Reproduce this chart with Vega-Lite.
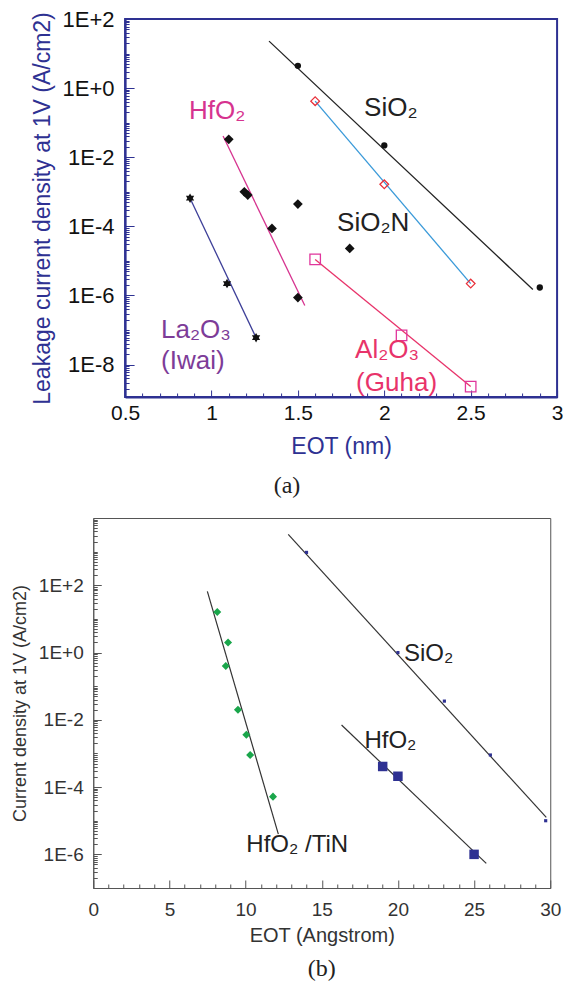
{
  "$schema": "https://vega.github.io/schema/vega-lite/v6.json",
  "background": "white",
  "padding": {"left": 10, "top": 7, "right": 0, "bottom": 0},
  "spacing": 9,
  "center": true,
  "bounds": "full",
  "config": {
    "font": "Liberation Sans",
    "axis": {"labelFont": "Liberation Sans", "titleFont": "Liberation Sans", "titleFontWeight": "normal", "grid": false, "labelOverlap": false, "labelFlush": false},
    "text": {"font": "Liberation Sans"}
  },
  "datasets": {
    "topLines": [
      {"series": "SiO2", "eot": 1.333, "j": 22.9},
      {"series": "SiO2", "eot": 2.86, "j": 1.48e-6},
      {"series": "SiO2N", "eot": 1.6, "j": 0.42},
      {"series": "SiO2N", "eot": 2.5, "j": 2.2e-6},
      {"series": "HfO2", "eot": 1.067, "j": 0.041},
      {"series": "HfO2", "eot": 1.54, "j": 5.1e-7},
      {"series": "La2O3", "eot": 0.876, "j": 6.5e-4},
      {"series": "La2O3", "eot": 1.258, "j": 6e-8},
      {"series": "Al2O3", "eot": 1.6, "j": 1.1e-5},
      {"series": "Al2O3", "eot": 2.5, "j": 2.3e-9}
    ],
    "topSiO2": [
      {"eot": 1.5, "j": 4.4},
      {"eot": 2.0, "j": 0.022},
      {"eot": 2.9, "j": 1.7e-6}
    ],
    "topSiO2N": [
      {"eot": 1.6, "j": 0.42},
      {"eot": 2.0, "j": 1.65e-3},
      {"eot": 2.5, "j": 2.2e-6}
    ],
    "topDiamonds": [
      {"eot": 1.1, "j": 0.033},
      {"eot": 1.19, "j": 1.0e-3},
      {"eot": 1.21, "j": 8e-4},
      {"eot": 1.35, "j": 8.7e-5},
      {"eot": 1.5, "j": 8.7e-7},
      {"eot": 1.5, "j": 4.4e-4},
      {"eot": 1.8, "j": 2.3e-5}
    ],
    "topStars": [
      {"eot": 0.876, "j": 6.5e-4},
      {"eot": 1.09, "j": 2.2e-6},
      {"eot": 1.258, "j": 6e-8}
    ],
    "topAl2O3": [
      {"eot": 1.6, "j": 1.1e-5},
      {"eot": 2.1, "j": 7e-8},
      {"eot": 2.5, "j": 2.3e-9}
    ],
    "topLabels": [
      {"label": "HfO₂", "series": "HfO2", "eot": 0.87, "j": 0.126},
      {"label": "SiO₂", "series": "SiO2", "eot": 1.883, "j": 0.155},
      {"label": "SiO₂N", "series": "SiO2N", "eot": 1.727, "j": 7.2e-5},
      {"label": "La₂O₃", "series": "La2O3", "eot": 0.708, "j": 5.7e-8},
      {"label": "(Iwai)", "series": "La2O3", "eot": 0.708, "j": 7.6e-9},
      {"label": "Al₂O₃", "series": "Al2O3", "eot": 1.831, "j": 1.5e-8},
      {"label": "(Guha)", "series": "Al2O3", "eot": 1.837, "j": 1.75e-9}
    ],
    "botLines": [
      {"series": "SiO2", "eot": 12.8, "j": 3240},
      {"series": "SiO2", "eot": 29.74, "j": 1.25e-5},
      {"series": "HfO2", "eot": 16.3, "j": 7e-3},
      {"series": "HfO2", "eot": 25.8, "j": 5.4e-7},
      {"series": "TiN", "eot": 7.49, "j": 66},
      {"series": "TiN", "eot": 12.15, "j": 4e-6}
    ],
    "botGreen": [
      {"eot": 8.14, "j": 16},
      {"eot": 8.85, "j": 2.0},
      {"eot": 8.7, "j": 0.4},
      {"eot": 9.5, "j": 0.02},
      {"eot": 10.05, "j": 3.6e-3},
      {"eot": 10.3, "j": 9e-4},
      {"eot": 11.8, "j": 5.2e-5}
    ],
    "botSiO2": [
      {"eot": 14.0, "j": 950},
      {"eot": 20.0, "j": 1.0},
      {"eot": 23.05, "j": 0.036},
      {"eot": 26.07, "j": 9e-4},
      {"eot": 29.7, "j": 1e-5}
    ],
    "botHfO2": [
      {"eot": 19.0, "j": 4.1e-4},
      {"eot": 20.0, "j": 2.1e-4},
      {"eot": 25.0, "j": 1e-6}
    ],
    "botLabels": [
      {"label": "SiO₂", "eot": 20.4, "j": 0.56},
      {"label": "HfO₂", "eot": 17.8, "j": 1.48e-3},
      {"label": "HfO₂ /TiN", "eot": 10.05, "j": 1.15e-6}
    ]
  },
  "vconcat": [
    {
      "width": 432,
      "height": 378,
      "view": {"stroke": "#2e3192", "strokeWidth": 2},
      "title": {"text": "(a)", "orient": "bottom", "anchor": "middle", "frame": "bounds", "font": "Liberation Serif", "fontSize": 24, "fontWeight": "normal", "color": "#222", "offset": 16},
      "encoding": {
        "x": {
          "field": "eot", "type": "quantitative",
          "scale": {"domain": [0.5, 3], "nice": false, "zero": false},
          "axis": {
            "title": "EOT (nm)", "titleColor": "#2e3192", "titleFontSize": 23, "titlePadding": 9,
            "values": [0.5,0.6,0.7,0.8,0.9,1,1.1,1.2,1.3,1.4,1.5,1.6,1.7,1.8,1.9,2,2.1,2.2,2.3,2.4,2.5,2.6,2.7,2.8,2.9,3],
            "labelExpr": "abs(datum.value*2 - round(datum.value*2)) < 0.001 ? format(datum.value, '~g') : ''",
            "tickSize": {"condition": {"test": "abs(datum.value*2 - round(datum.value*2)) < 0.001", "value": -7}, "value": -4},
            "labelPadding": 12, "labelFontSize": 21, "labelColor": "#111",
            "domainColor": "#2e3192", "domainWidth": 2, "tickColor": "#2e3192", "tickWidth": 1
          }
        },
        "y": {
          "field": "j", "type": "quantitative",
          "scale": {"type": "log", "domain": [1.15e-9, 100], "nice": false},
          "axis": {
            "title": "Leakage current density at 1V (A/cm2)", "titleColor": "#2e3192", "titleFontSize": 23, "titleX": -71,
            "minExtent": 114,
            "values": [2e-9,3e-9,4e-9,5e-9,6e-9,7e-9,8e-9,9e-9,
              1e-8,2e-8,3e-8,4e-8,5e-8,6e-8,7e-8,8e-8,9e-8,
              1e-7,2e-7,3e-7,4e-7,5e-7,6e-7,7e-7,8e-7,9e-7,
              1e-6,2e-6,3e-6,4e-6,5e-6,6e-6,7e-6,8e-6,9e-6,
              1e-5,2e-5,3e-5,4e-5,5e-5,6e-5,7e-5,8e-5,9e-5,
              1e-4,2e-4,3e-4,4e-4,5e-4,6e-4,7e-4,8e-4,9e-4,
              0.001,0.002,0.003,0.004,0.005,0.006,0.007,0.008,0.009,
              0.01,0.02,0.03,0.04,0.05,0.06,0.07,0.08,0.09,
              0.1,0.2,0.3,0.4,0.5,0.6,0.7,0.8,0.9,
              1,2,3,4,5,6,7,8,9,
              10,20,30,40,50,60,70,80,90,100],
            "labelExpr": "(indexof([2,0,-2,-4,-6,-8], round(log(datum.value)/LN10)) >= 0 && abs(log(datum.value)/LN10 - round(log(datum.value)/LN10)) < 0.001) ? '1E' + (round(log(datum.value)/LN10) >= 0 ? '+' : '-') + abs(round(log(datum.value)/LN10)) : ''",
            "tickSize": {"condition": {"test": "indexof([2,0,-2,-4,-6,-8], round(log(datum.value)/LN10)) >= 0 && abs(log(datum.value)/LN10 - round(log(datum.value)/LN10)) < 0.001", "value": -9}, "value": -4},
            "labelPadding": 20, "labelFontSize": 22, "labelColor": "#111",
            "domainColor": "#2e3192", "domainWidth": 2, "tickColor": "#2e3192", "tickWidth": 1
          }
        }
      },
      "layer": [
        {
          "data": {"name": "topLines"},
          "mark": {"type": "line", "strokeWidth": 1.3},
          "encoding": {
            "detail": {"field": "series", "type": "nominal"},
            "stroke": {"field": "series", "type": "nominal", "legend": null,
              "scale": {"domain": ["SiO2", "SiO2N", "HfO2", "La2O3", "Al2O3"], "range": ["#222222", "#3a9ad9", "#d6338f", "#3d3f98", "#e8336a"]}}
          }
        },
        {"data": {"name": "topSiO2"}, "mark": {"type": "point", "shape": "circle", "filled": true, "color": "#111", "opacity": 1, "size": 40}},
        {"data": {"name": "topSiO2N"}, "mark": {"type": "point", "shape": "diamond", "filled": false, "color": "#e8303a", "opacity": 1, "strokeWidth": 1.3, "size": 75}},
        {"data": {"name": "topDiamonds"}, "mark": {"type": "point", "shape": "diamond", "filled": true, "color": "#111", "opacity": 1, "size": 95}},
        {"data": {"name": "topStars"}, "mark": {"type": "point", "shape": "M0,-1L0.289,-0.5L0.866,-0.5L0.577,0L0.866,0.5L0.289,0.5L0,1L-0.289,0.5L-0.866,0.5L-0.577,0L-0.866,-0.5L-0.289,-0.5Z", "filled": true, "color": "#111", "opacity": 1, "size": 90}},
        {"data": {"name": "topAl2O3"}, "mark": {"type": "point", "shape": "square", "filled": false, "color": "#e0359c", "opacity": 1, "strokeWidth": 1.3, "size": 110}},
        {
          "data": {"name": "topLabels"},
          "mark": {"type": "text", "align": "left", "baseline": "alphabetic", "fontSize": 26},
          "encoding": {
            "text": {"field": "label"},
            "fill": {"field": "series", "type": "nominal", "legend": null,
              "scale": {"domain": ["SiO2", "SiO2N", "HfO2", "La2O3", "Al2O3"], "range": ["#222222", "#222222", "#d6338f", "#7d3c98", "#e8336a"]}}
          }
        }
      ]
    },
    {
      "width": 457,
      "height": 370,
      "view": {"stroke": "#555555", "strokeWidth": 1},
      "title": {"text": "(b)", "orient": "bottom", "anchor": "middle", "frame": "group", "font": "Liberation Serif", "fontSize": 24, "fontWeight": "normal", "color": "#222", "offset": 12},
      "resolve": {"axis": {"y": "independent"}},
      "encoding": {
        "x": {
          "field": "eot", "type": "quantitative",
          "scale": {"domain": [0, 30], "nice": false, "zero": false},
          "axis": {
            "title": "EOT (Angstrom)", "titleColor": "#333", "titleFontSize": 20, "titlePadding": 2,
            "values": [0,1,2,3,4,5,6,7,8,9,10,11,12,13,14,15,16,17,18,19,20,21,22,23,24,25,26,27,28,29,30],
            "labelExpr": "datum.value % 5 === 0 ? format(datum.value, 'd') : ''",
            "tickSize": {"condition": {"test": "datum.value % 5 === 0", "value": -8}, "value": -4},
            "labelPadding": 20, "labelFontSize": 19, "labelColor": "#333",
            "domainColor": "#555", "domainWidth": 1, "tickColor": "#555", "tickWidth": 1
          }
        },
        "y": {
          "field": "j", "type": "quantitative",
          "scale": {"type": "log", "domain": [1e-7, 10000], "nice": false},
          "axis": null
        }
      },
      "layer": [
        {
          "data": {"name": "botLines"},
          "mark": {"type": "line", "strokeWidth": 1.2, "color": "#333"},
          "encoding": {
            "detail": {"field": "series", "type": "nominal"},
            "y": {
              "field": "j", "type": "quantitative",
              "scale": {"type": "log", "domain": [1e-7, 10000], "nice": false},
              "axis": {
                "orient": "left",
                "title": "Current density at 1V (A/cm2)", "titleColor": "#333", "titleFontSize": 18, "titleX": -64,
                "minExtent": 82,
                "values": [1e-7,2e-7,3e-7,4e-7,5e-7,6e-7,7e-7,8e-7,9e-7,
                  1e-6,2e-6,3e-6,4e-6,5e-6,6e-6,7e-6,8e-6,9e-6,
                  1e-5,2e-5,3e-5,4e-5,5e-5,6e-5,7e-5,8e-5,9e-5,
                  1e-4,2e-4,3e-4,4e-4,5e-4,6e-4,7e-4,8e-4,9e-4,
                  0.001,0.002,0.003,0.004,0.005,0.006,0.007,0.008,0.009,
                  0.01,0.02,0.03,0.04,0.05,0.06,0.07,0.08,0.09,
                  0.1,0.2,0.3,0.4,0.5,0.6,0.7,0.8,0.9,
                  1,2,3,4,5,6,7,8,9,
                  10,20,30,40,50,60,70,80,90,
                  100,200,300,400,500,600,700,800,900,
                  1000,2000,3000,4000,5000,6000,7000,8000,9000,10000],
                "labelExpr": "(indexof([2,0,-2,-4,-6], round(log(datum.value)/LN10)) >= 0 && abs(log(datum.value)/LN10 - round(log(datum.value)/LN10)) < 0.001) ? '1E' + (round(log(datum.value)/LN10) >= 0 ? '+' : '-') + abs(round(log(datum.value)/LN10)) : ''",
                "tickSize": {"condition": {"test": "indexof([2,0,-2,-4,-6], round(log(datum.value)/LN10)) >= 0 && abs(log(datum.value)/LN10 - round(log(datum.value)/LN10)) < 0.001", "value": -8}, "value": -4},
                "labelPadding": 18, "labelFontSize": 19, "labelColor": "#333",
                "domainColor": "#555", "domainWidth": 1, "tickColor": "#555", "tickWidth": 1
              }
            }
          }
        },
        {"data": {"name": "botGreen"}, "mark": {"type": "point", "shape": "diamond", "filled": true, "color": "#1aa64b", "opacity": 1, "size": 65}},
        {"data": {"name": "botSiO2"}, "mark": {"type": "point", "shape": "square", "filled": true, "color": "#2e3192", "opacity": 1, "size": 10}},
        {"data": {"name": "botHfO2"}, "mark": {"type": "point", "shape": "square", "filled": true, "color": "#2e3192", "opacity": 1, "size": 90}},
        {
          "data": {"name": "botLabels"},
          "mark": {"type": "text", "align": "left", "baseline": "alphabetic", "fontSize": 24, "color": "#222"},
          "encoding": {
            "text": {"field": "label"},
            "y": {
              "field": "j", "type": "quantitative",
              "scale": {"type": "log", "domain": [1e-7, 10000], "nice": false},
              "axis": {"orient": "right", "title": null, "domain": false, "ticks": false, "labels": false, "minExtent": 45}
            }
          }
        }
      ]
    }
  ]
}
